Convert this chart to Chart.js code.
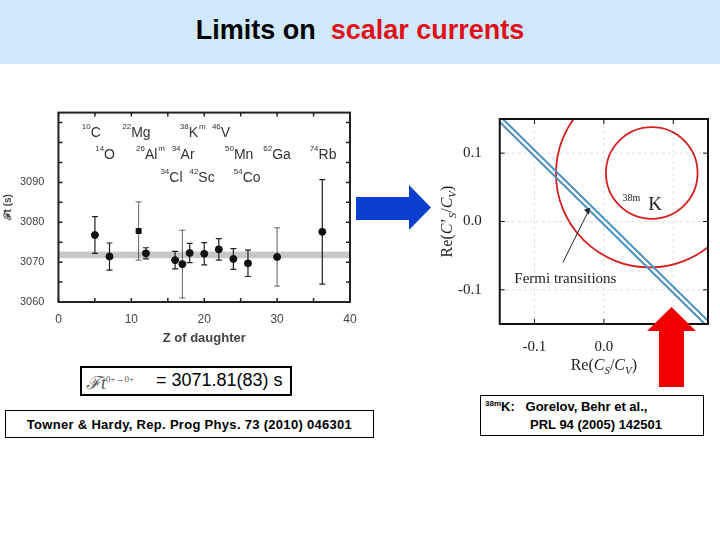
<!DOCTYPE html>
<html><head><meta charset="utf-8">
<script src="https://cdn.jsdelivr.net/npm/chart.js@4/dist/chart.umd.min.js"></script>
<style>
body{margin:0;width:720px;height:540px;position:relative;background:#fff;font-family:Arial,"Liberation Sans",sans-serif;overflow:hidden}
#hdr{position:absolute;left:0;top:0;width:720px;height:64px;background:#cfe9fb}
#title{position:absolute;left:0;top:15px;width:720px;text-align:center;font-size:27px;font-weight:bold;color:#000}
.box{position:absolute;border:1px solid #000;background:#fff;font-size:13px}
.c{position:absolute}
</style></head><body>
<div id="hdr"></div>
<div id="title">Limits on&nbsp; <span style="color:#e0101a">scalar currents</span></div>
<div class="c" style="left:0px;top:100px;width:366px;height:250px"><canvas id="left"></canvas></div>
<div class="c" style="left:420px;top:100px;width:300px;height:285px"><canvas id="right"></canvas></div>
<svg class="c" style="left:355px;top:184px" width="78" height="48"><polygon points="1,13 54,13 54,1 76,23.5 54,46 54,36 1,36" fill="#0a3fcf"/></svg>
<svg class="c" style="left:646px;top:306px" width="52" height="82"><polygon points="25.5,1 50,25 38,25 38,81 13,81 13,25 1,25" fill="#f00000"/></svg>
<div class="box" style="left:80px;top:366px;width:208px;height:26px;font-size:18px;border-width:2px"><span style="position:absolute;left:4px;top:2px;font-family:'Liberation Serif';font-style:italic;color:#555">ℱt<sup style="font-size:9px;font-style:normal">0+→0+</sup></span><span style="position:absolute;left:74px;top:2px">= 3071.81(83) s</span></div>
<div class="box" style="left:5px;top:410px;width:367px;height:26px;text-align:center;line-height:27px;font-weight:bold;letter-spacing:0.3px">Towner &amp; Hardy, Rep. Prog Phys. 73 (2010) 046301</div>
<div class="box" style="left:480px;top:395px;width:222px;height:39px;font-weight:bold"><span style="position:absolute;left:4px;top:3px"><sup style="font-size:8px">38m</sup>K:&nbsp;&nbsp; Gorelov, Behr et al.,</span><span style="position:absolute;left:49px;top:21px">PRL 94 (2005) 142501</span></div>
<script>
// ---- left chart data ----
const nuclides = ["10C","14O","22Mg","26Alm","34Cl","34Ar","38Km","42Sc","46V","50Mn","54Co","62Ga","74Rb"];
const zDaughter = [5,7,11,12,16,17,18,20,22,24,26,30,36.2];
const ftValues = [3076.8,3071.4,3077.8,3072.2,3070.5,3069.5,3072.3,3072.1,3073.2,3070.8,3069.7,3071.3,3077.6];
const ftErrors = [4.6,3.4,7.3,1.4,2.2,8.5,2.4,2.8,2.7,2.6,3.3,7.3,13.1];
const ftAverage = 3071.81, ftAvgErr = 0.83;
const labelSup = ["10","14","22","26","34","34","38","42","46","50","54","62","74"];
const labelEl = ["C","O","Mg","Al","Cl","Ar","K","Sc","V","Mn","Co","Ga","Rb"];
const labelExp = ["","","","m","","","m","","","","","",""];
const labelX = [4.5,6.4,10.7,12.1,15.5,17.1,17.9,19.7,22.3,24.8,25.9,30,36.3];
const labelY = [3101.3,3095.8,3101.3,3095.8,3090.2,3095.8,3101.3,3090.2,3101.3,3095.8,3090.2,3095.8,3095.8];
const xTicksL = [0,10,20,30,40];
const yTicksL = [3060,3070,3080,3090];
// ---- right chart data ----
const circleCx = [0.066,0.069];
const circleCy = [0.07,0.071];
const circleR = [0.135,0.066];
const fermiLineX = [-0.16,0.16];
const fermiLineY = [0.16,-0.16];
const fermiOffset = [0.0045,-0.0045];
const ticksR = [-0.1,0.0,0.1];

const leftPlugin = {id:'lp',
 beforeDatasetsDraw(c){const {ctx,chartArea:a,scales:{x,y}}=c;ctx.save();
  ctx.fillStyle='#c8c8c8';const t=y.getPixelForValue(ftAverage+ftAvgErr),b=y.getPixelForValue(ftAverage-ftAvgErr);
  ctx.fillRect(a.left,t,a.right-a.left,b-t);
  ctx.strokeStyle='#222';
  zDaughter.forEach((z,i)=>{const px=x.getPixelForValue(z),p1=y.getPixelForValue(ftValues[i]+ftErrors[i]),p2=y.getPixelForValue(ftValues[i]-ftErrors[i]);
   ctx.lineWidth=(ftErrors[i]>7&&i!=12)?0.7:1.2;ctx.beginPath();ctx.moveTo(px,p1);ctx.lineTo(px,p2);ctx.moveTo(px-3,p1);ctx.lineTo(px+3,p1);ctx.moveTo(px-3,p2);ctx.lineTo(px+3,p2);ctx.stroke();});
  ctx.restore();},
 afterDatasetsDraw(c){const {ctx,chartArea:a,scales:{x,y}}=c;ctx.save();
  ctx.strokeStyle='#222';ctx.lineWidth=2;ctx.strokeRect(a.left,a.top,a.right-a.left,a.bottom-a.top);
  ctx.lineWidth=1.5;
  for(let v=3060;v<=3105;v+=5){const py=y.getPixelForValue(v);ctx.beginPath();ctx.moveTo(a.left,py);ctx.lineTo(a.left+4,py);ctx.moveTo(a.right,py);ctx.lineTo(a.right-4,py);ctx.stroke();}
  for(let v=0;v<=40;v+=5){const px=x.getPixelForValue(v);ctx.beginPath();ctx.moveTo(px,a.bottom);ctx.lineTo(px,a.bottom-4);ctx.moveTo(px,a.top);ctx.lineTo(px,a.top+4);ctx.stroke();}
  ctx.fillStyle='#333';ctx.textBaseline='alphabetic';
  nuclides.forEach((n,i)=>{const px=x.getPixelForValue(labelX[i]),py=y.getPixelForValue(labelY[i]);
   ctx.font='8px Arial';const w1=ctx.measureText(labelSup[i]).width;ctx.font='14px Arial';const w2=ctx.measureText(labelEl[i]).width;
   let sx=px-(w1+w2)/2;ctx.font='8px Arial';ctx.fillText(labelSup[i],sx,py-8);ctx.font='14px Arial';ctx.fillText(labelEl[i],sx+w1,py);
   if(labelExp[i]){ctx.font='8px Arial';ctx.fillText(labelExp[i],sx+w1+w2+1,py-8);}});
  ctx.restore();}};

new Chart(document.getElementById('left'),{type:'scatter',
 data:{datasets:[{data:zDaughter.map((z,i)=>({x:z,y:ftValues[i]})),backgroundColor:'#111',borderColor:'#111',pointRadius:3.5,pointStyle:zDaughter.map((z,i)=>i==2?'rect':'circle')}]},
 options:{responsive:true,maintainAspectRatio:false,animation:false,layout:{padding:{left:2,right:16,top:10,bottom:0}},
  plugins:{legend:{display:false},tooltip:{enabled:false}},
  scales:{x:{min:0,max:40,afterBuildTicks:s=>{s.ticks=xTicksL.map(v=>({value:v}))},grid:{display:false},border:{display:false},
    ticks:{color:'#444',font:{size:12},padding:2,callback:v=>String(v)},title:{display:true,text:'Z of daughter',color:'#444',font:{size:13,weight:'bold'},padding:{top:2}}},
   y:{min:3060,max:3107.5,afterBuildTicks:s=>{s.ticks=yTicksL.map(v=>({value:v}))},grid:{display:false},border:{display:false},
    ticks:{color:'#444',font:{size:11},padding:6,callback:v=>String(v)},title:{display:true,text:'ℱt (s)',color:'#444',font:{size:10,weight:'bold'},padding:0}}}},
 plugins:[leftPlugin]});

function subText(ctx,parts,x,y){
 let cx=x;parts.forEach(([t,sub,it])=>{ctx.font=(it?'italic ':'')+(sub?'11px':'16px')+' "Liberation Serif"';ctx.fillText(t,cx,sub?y+4:y);cx+=ctx.measureText(t).width;});return cx-x;}
const rightPlugin={id:'rp',
 beforeDatasetsDraw(c){const {ctx,chartArea:a,scales:{x,y}}=c;ctx.save();
  ctx.strokeStyle='#d8d8d8';ctx.setLineDash([3,3]);ctx.lineWidth=0.8;
  ticksR.forEach(v=>{const px=x.getPixelForValue(v),py=y.getPixelForValue(v);ctx.beginPath();ctx.moveTo(px,a.top);ctx.lineTo(px,a.bottom);ctx.moveTo(a.left,py);ctx.lineTo(a.right,py);ctx.stroke();});
  ctx.setLineDash([]);ctx.beginPath();ctx.rect(a.left,a.top,a.right-a.left,a.bottom-a.top);ctx.clip();
  ctx.strokeStyle='#d42020';ctx.lineWidth=1.8;
  circleCx.forEach((cx,i)=>{const px=x.getPixelForValue(cx),py=y.getPixelForValue(circleCy[i]);const r=x.getPixelForValue(cx+circleR[i])-px;ctx.beginPath();ctx.arc(px,py,r,0,Math.PI*2);ctx.stroke();});
  ctx.restore();},
 afterDatasetsDraw(c){const {ctx,chartArea:a,scales:{x,y}}=c;ctx.save();
  ctx.strokeStyle='#111';ctx.lineWidth=2;ctx.strokeRect(a.left,a.top,a.right-a.left,a.bottom-a.top);
  ctx.lineWidth=1;ticksR.forEach(v=>{const px=x.getPixelForValue(v),py=y.getPixelForValue(v);ctx.beginPath();ctx.moveTo(px,a.bottom);ctx.lineTo(px,a.bottom-5);ctx.moveTo(px,a.top);ctx.lineTo(px,a.top+5);ctx.moveTo(a.left,py);ctx.lineTo(a.left+5,py);ctx.moveTo(a.right,py);ctx.lineTo(a.right-5,py);ctx.stroke();});
  ctx.fillStyle='#222';ctx.font='15px "Liberation Serif"';ctx.fillText('Fermi transitions',x.getPixelForValue(-0.129),y.getPixelForValue(-0.09));
  ctx.font='10px "Liberation Serif"';ctx.fillText('38m',x.getPixelForValue(0.027),y.getPixelForValue(0.03));
  ctx.font='19px "Liberation Serif"';ctx.fillText('K',x.getPixelForValue(0.064),y.getPixelForValue(0.017));
  ctx.strokeStyle='#222';ctx.lineWidth=1;const sx=x.getPixelForValue(-0.059),sy=y.getPixelForValue(-0.06),ex=x.getPixelForValue(-0.02),ey=y.getPixelForValue(0.02);
  ctx.beginPath();ctx.moveTo(sx,sy);ctx.lineTo(ex,ey);ctx.stroke();ctx.beginPath();ctx.moveTo(ex,ey);ctx.lineTo(ex-6,ey+2);ctx.lineTo(ex-1,ey+7);ctx.closePath();ctx.fill();
  const xp=[['Re(',0,0],['C',0,1],['S',1,1],['/',0,0],['C',0,1],['V',1,1],[')',0,0]];
  let w=subText(ctx,xp,-1000,-1000);
  subText(ctx,xp,(a.left+a.right)/2-w/2,a.bottom+46);
  const yp=[['Re(',0,0],['C',0,1],['’',0,0],['S',1,1],['/',0,0],['C',0,1],['V',1,1],[')',0,0]];
  w=subText(ctx,yp,-1000,-1000);
  ctx.translate(a.left-48,(a.top+a.bottom)/2+w/2);ctx.rotate(-Math.PI/2);subText(ctx,yp,0,0);
  ctx.restore();}};

new Chart(document.getElementById('right'),{type:'scatter',
 data:{datasets:fermiOffset.map(o=>({data:fermiLineX.map((v,i)=>({x:v,y:fermiLineY[i]+o})),showLine:true,borderColor:'#4a8fbf',borderWidth:2,pointRadius:0}))},
 options:{responsive:true,maintainAspectRatio:false,animation:false,clip:true,layout:{padding:{left:28,right:12,top:0,bottom:23}},
  plugins:{legend:{display:false},tooltip:{enabled:false}},
  scales:{x:{min:-0.15,max:0.15,afterBuildTicks:s=>{s.ticks=ticksR.map(v=>({value:v}))},grid:{display:false},border:{display:false},
    ticks:{color:'#222',font:{size:15,family:'Liberation Serif'},padding:6,callback:v=>v.toFixed(1)}},
   y:{min:-0.15,max:0.15,afterBuildTicks:s=>{s.ticks=ticksR.map(v=>({value:v}))},grid:{display:false},border:{display:false},
    ticks:{color:'#222',font:{size:15,family:'Liberation Serif'},padding:10,callback:v=>v.toFixed(1)}}}},
 plugins:[rightPlugin]});
</script></body></html>
